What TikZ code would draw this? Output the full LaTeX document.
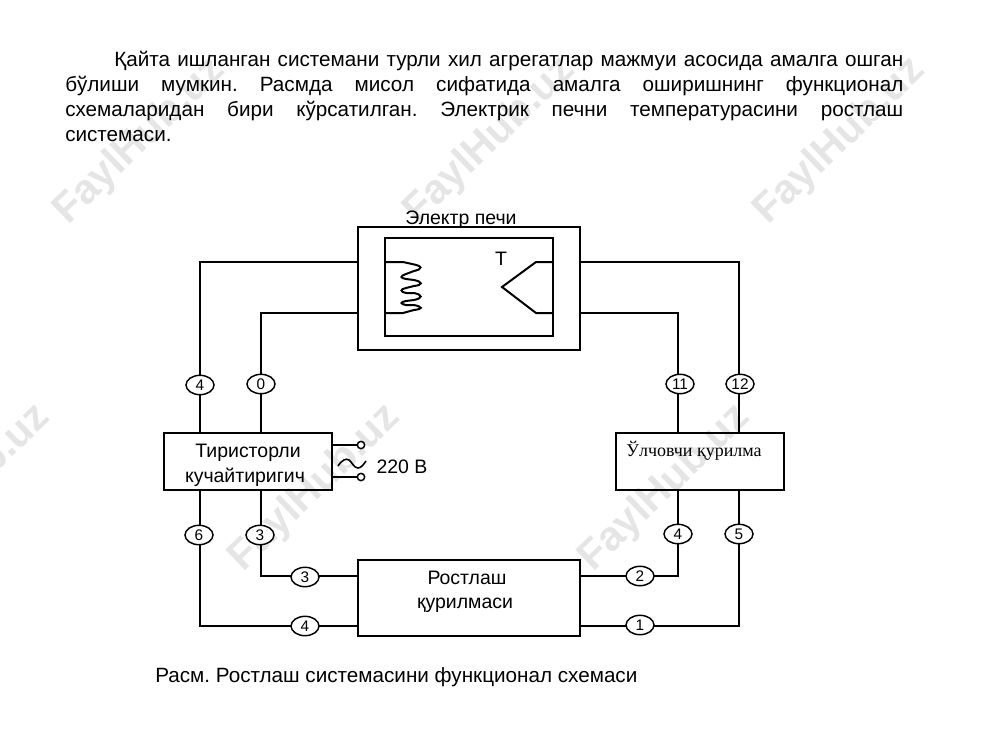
\documentclass[tikz,border=0pt]{standalone}
\usepackage{fontspec}
\setmainfont{Liberation Sans}
\newfontfamily\serifcyr{Liberation Serif}
\newcommand{\bodysize}{\fontsize{15.5pt}{18.75pt}\selectfont}
\newcommand{\blocksize}{\fontsize{14.6pt}{18pt}\selectfont}
\usetikzlibrary{shapes.geometric}
\tikzset{
  wire/.style={line width=1.6pt, line join=miter},
  blockbox/.style={draw, line width=1.8pt, inner sep=0pt},
  tag/.style={draw, ellipse, line width=1.1pt, fill=white, minimum width=21pt, minimum height=14.5pt, inner sep=0pt, font=\fontsize{11.5pt}{12pt}\selectfont},
  term/.style={draw, circle, line width=1.1pt, fill=white, minimum size=5.5pt, inner sep=0pt},
  label/.style={font=\blocksize, align=center, inner sep=0pt},
  para/.style={anchor=base west, inner sep=0pt, font=\bodysize},
  wm/.style={text=black!10, rotate=44, font=\fontsize{31pt}{31pt}\bfseries\selectfont, inner sep=0pt}
}
\frenchspacing
\begin{document}
\begin{tikzpicture}[x=0.75pt,y=-0.75pt]
\useasboundingbox (0,0) rectangle (1000,750);
% watermark
\node[wm] (w1) at (140,141) {FaylHub.uz};
\node[wm] (w2) at (490,141) {FaylHub.uz};
\node[wm] (w3) at (840,141) {FaylHub.uz};
\node[wm] (w4) at (-35,488) {FaylHub.uz};
\node[wm] (w5) at (315,488) {FaylHub.uz};
\node[wm] (w6) at (665,488) {FaylHub.uz};
% text
\node[para] (p1) at (114,66) {\makebox[591.75pt][s]{Қайта ишланган системани турли хил агрегатлар мажмуи асосида амалга ошган}};
\node[para] (p2) at (65,91) {\makebox[628.5pt][s]{бўлиши мумкин. Расмда мисол сифатида амалга оширишнинг функционал}};
\node[para] (p3) at (65,116) {\makebox[628.5pt][s]{схемаларидан бири кўрсатилган. Электрик печни температурасини ростлаш}};
\node[para] (p4) at (65,141) {системаси.};
% blocks
\node[blockbox,minimum width=166.5pt,minimum height=92pt] (furn) at (469,288.5) {};
\node[draw,line width=1.5pt,inner sep=0pt,minimum width=126pt,minimum height=73.5pt] (inner) at (469,287) {};
\node[blockbox,minimum width=126pt,minimum height=42.75pt] (thy) at (248,461.5) {};
\node[blockbox,minimum width=126pt,minimum height=42.75pt] (meas) at (700,461.5) {};
\node[blockbox,minimum width=166.5pt,minimum height=57pt] (reg) at (469,598) {};
% labels
\node[label,anchor=base] (lf) at (461,224) {Электр печи};
\node[label] (lt) at (501,259) {Т};
\node[label,anchor=base] (l1) at (248,457) {Тиристорли};
\node[label,anchor=base] (l2) at (245,482) {кучайтиригич};
\node[label,anchor=base,font=\serifcyr\fontsize{13.5pt}{15pt}\selectfont] (l3) at (694,456) {Ўлчовчи қурилма};
\node[label,anchor=base] (l4) at (467,584) {Ростлаш};
\node[label,anchor=base] (l5) at (465,608) {қурилмаси};
\node[label,anchor=base] (l6) at (402,473) {220 В};
\node[para] (cap) at (155,682) {Расм. Ростлаш системасини функционал схемаси};
% coordinates on block edges
\coordinate (f1) at (358,262); \coordinate (f2) at (358,313);
\coordinate (f3) at (580,262); \coordinate (f4) at (580,313);
\coordinate (t1) at (200,433); \coordinate (t2) at (261,433);
\coordinate (t3) at (200,490); \coordinate (t4) at (261,490);
\coordinate (m1) at (678,433); \coordinate (m2) at (739,433);
\coordinate (m3) at (678,490); \coordinate (m4) at (739,490);
\coordinate (r1) at (358,576); \coordinate (r2) at (358,626);
\coordinate (r3) at (580,576); \coordinate (r4) at (580,626);
% connectors
\draw[wire] (f1) -| (t1);
\draw[wire] (f2) -| (t2);
\draw[wire] (f3) -| (m2);
\draw[wire] (f4) -| (m1);
\draw[wire] (t3) |- (r2);
\draw[wire] (t4) |- (r1);
\draw[wire] (m3) |- (r3);
\draw[wire] (m4) |- (r4);
% tags
\node[tag] (a4) at (200,385) {4};
\node[tag] (a0) at (261,384) {0};
\node[tag] (a11) at (680,384) {11};
\node[tag] (a12) at (740,384) {12};
\node[tag] (b6) at (199,535) {6};
\node[tag] (b3) at (260,535) {3};
\node[tag] (c3) at (305,577) {3};
\node[tag] (c4) at (305,626) {4};
\node[tag] (b4) at (678,534) {4};
\node[tag] (b5) at (739,534) {5};
\node[tag] (c2) at (640,576) {2};
\node[tag] (c1) at (640,625) {1};
% supply
\node[term] (s1) at (361,445) {};
\node[term] (s2) at (361,477) {};
\draw[wire] (332,445) -- (s1);
\draw[wire] (332,477) -- (s2);
\draw[line width=1.2pt] (338,466) .. controls (342,460) and (346,458) .. (349,460) .. controls (352,462) and (354,468) .. (358,468) .. controls (361,468) and (364,464) .. (366,461);
% heater
\draw[line width=1.5pt] (385,262) -- (403,262) -- (412,264) .. controls (423,266) and (423,269) .. (414,271) -- (406,274) .. controls (400,276) and (400,278) .. (406,279)
 -- (414,280) .. controls (423,282) and (423,285) .. (414,286) -- (406,288) .. controls (400,289) and (400,292) .. (406,293)
 -- (414,293) .. controls (423,295) and (423,298) .. (414,300) -- (406,301) .. controls (400,302) and (400,304) .. (406,305)
 -- (414,305) .. controls (423,307) and (423,309) .. (414,310) -- (403,313) -- (385,313);
% thermocouple
\draw[line width=1.5pt] (553,262) -- (536,262) -- (502,287) -- (536,313) -- (553,313);
\end{tikzpicture}
\end{document}
